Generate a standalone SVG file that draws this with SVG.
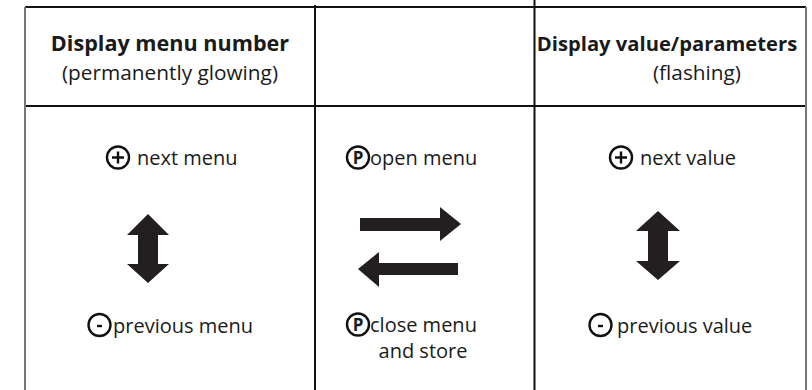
<svg xmlns="http://www.w3.org/2000/svg" width="812" height="390" viewBox="0 0 812 390">
<style>
.t{font-family:"Open Sans","Liberation Sans",sans-serif;font-size:20px;fill:#1a1a1a}
.b{font-weight:bold}
.line{stroke:#111;stroke-width:2;fill:none}
.edge{stroke:#777;stroke-width:2;fill:none}
.ic{stroke:#111;stroke-width:2.4;fill:none}
.ar{fill:#231f20}
</style>
<rect width="812" height="390" fill="#fff"/>
<g id="grid">
<line class="line" x1="25" y1="7" x2="806" y2="7"/>
<line class="line" x1="25" y1="106" x2="806" y2="106"/>
<line class="edge" x1="25" y1="7" x2="25" y2="390"/>
<line class="edge" x1="806" y1="7" x2="806" y2="390"/>
<line class="line" x1="315" y1="5" x2="315" y2="390"/>
<line class="line" x1="534.5" y1="0" x2="534.5" y2="390"/>
</g>
<g id="header-left">
<text class="t b" x="170" y="50.5" text-anchor="middle" style="font-size:21.6px">Display menu number</text>
<text class="t" x="170" y="79.5" text-anchor="middle" style="font-size:20.8px">(permanently glowing)</text>
</g>
<g id="header-right">
<text class="t b" x="667" y="50.5" text-anchor="middle" style="font-size:20.2px">Display value/parameters</text>
<text class="t" x="697" y="79.5" text-anchor="middle" style="font-size:20.8px">(flashing)</text>
</g>
<g id="next-menu">
<circle class="ic" cx="118" cy="157.5" r="11"/>
<path class="ic" d="M112 157.5h12M118 151.5v12"/>
<text class="t" x="137" y="165">next menu</text>
</g>
<g id="previous-menu">
<circle class="ic" cx="99.5" cy="325" r="11"/>
<path class="ic" d="M97 326h5"/>
<text class="t" x="113" y="333">previous menu</text>
</g>
<g id="open-menu">
<circle class="ic" cx="358" cy="157.5" r="11"/>
<text class="t b" x="358" y="164" text-anchor="middle" style="font-size:17px">P</text>
<text class="t" x="370" y="165">open menu</text>
</g>
<g id="close-menu">
<circle class="ic" cx="358" cy="324.5" r="11"/>
<text class="t b" x="358" y="331" text-anchor="middle" style="font-size:17px">P</text>
<text class="t" x="370" y="332">close menu</text>
<text class="t" x="423" y="358" text-anchor="middle">and store</text>
</g>
<g id="next-value">
<circle class="ic" cx="621" cy="157.5" r="11"/>
<path class="ic" d="M615 157.5h12M621 151.5v12"/>
<text class="t" x="640" y="165">next value</text>
</g>
<g id="previous-value">
<circle class="ic" cx="600.5" cy="325" r="11"/>
<path class="ic" d="M598 326h5"/>
<text class="t" x="617" y="333">previous value</text>
</g>
<g id="connectors">
<polygon class="ar" points="148,214 169,235 158,235 158,264 169,264 148,283 127,264 138,264 138,235 127,235"/>
<polygon class="ar" points="658,211 680,231 668,231 668,261 680,261 658,280 636,261 648,261 648,231 636,231"/>
<polygon class="ar" points="461,224 440,207 440,218 360,218 360,231 440,231 440,241"/>
<polygon class="ar" points="358,269 379,252 379,263 458,263 458,275 379,275 379,287"/>
</g>
</svg>
